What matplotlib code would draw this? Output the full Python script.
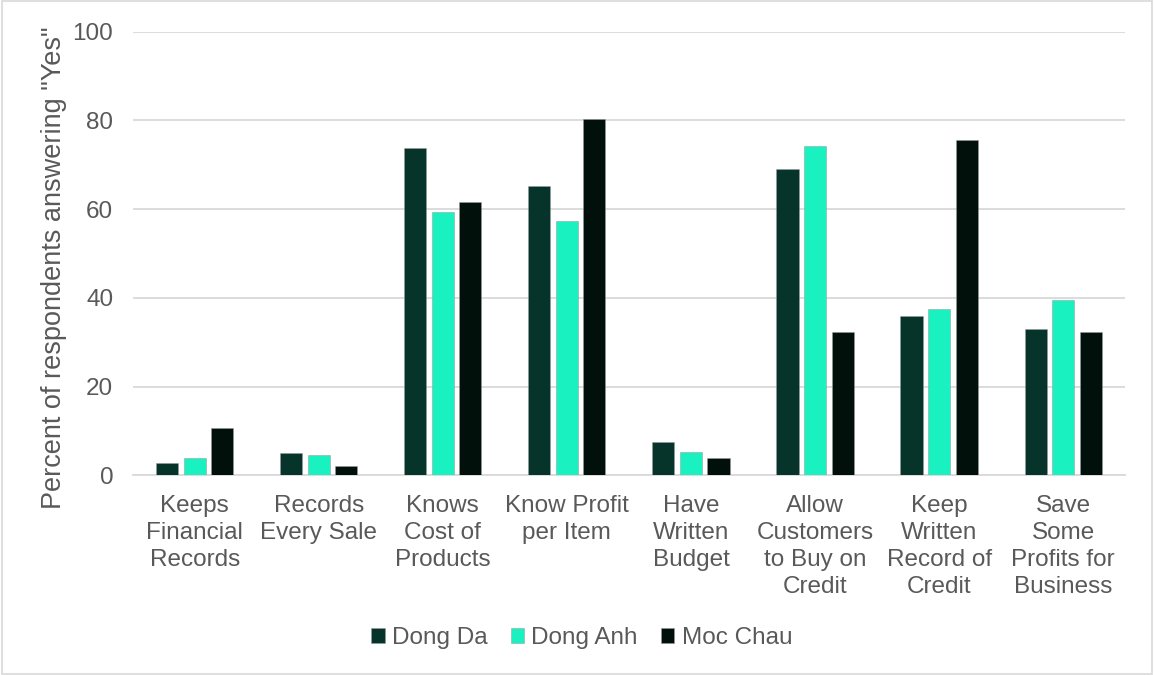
import matplotlib.pyplot as plt
import numpy as np

plt.rcParams['font.family'] = ['Liberation Sans', 'DejaVu Sans']

categorias = ["Keeps\nFinancial\nRecords", "Records\nEvery Sale", "Knows\nCost of\nProducts",
              "Know Profit\nper Item", "Have\nWritten\nBudget", "Allow\nCustomers\nto Buy on\nCredit",
              "Keep\nWritten\nRecord of\nCredit", "Save\nSome\nProfits for\nBusiness"]
dong_da = [2.8, 5.1, 73.7, 65.2, 7.4, 69.0, 36.0, 32.9]
dong_anh = [3.8, 4.6, 59.4, 57.3, 5.3, 74.3, 37.4, 39.4]
moc_chau = [10.7, 2.0, 61.7, 80.3, 3.8, 32.3, 75.6, 32.3]

series = [("Dong Da", dong_da, "#06342A"),
          ("Dong Anh", dong_anh, "#19F2C0"),
          ("Moc Chau", moc_chau, "#02100C")]

gris = "#595959"

fig = plt.figure(figsize=(11.54, 6.75), dpi=100)
ax = fig.add_axes([0.115, 0.296, 0.86, 0.657])

x = np.arange(len(categorias))
ancho = 0.178
paso = 0.222
for i, (nombre, vals, color) in enumerate(series):
    ax.bar(x + (i - 1) * paso, vals, ancho, color=color, label=nombre,
           edgecolor=(0.6, 0.6, 0.6, 0.6), linewidth=0.6, zorder=3)

ax.set_xlim(-0.5, len(categorias) - 0.5)
ax.set_ylim(0, 100)
ax.set_yticks(range(0, 101, 20))
ax.yaxis.grid(True, color="#d9d9d9", linewidth=1.3, zorder=0)
ax.set_axisbelow(True)
for s in ["top", "right", "left"]:
    ax.spines[s].set_visible(False)
ax.spines["bottom"].set_color("#d9d9d9")
ax.spines["bottom"].set_linewidth(1.3)
ax.tick_params(length=0, colors=gris, labelsize=17.5)
ax.tick_params(axis="y", pad=14)
ax.tick_params(axis="x", pad=14)
ax.set_xticks(x)
ax.set_xticklabels(categorias, linespacing=1.3, va="top")
ax.set_ylabel('Percent of respondents answering "Yes"', color=gris, fontsize=19.5)
ax.yaxis.set_label_coords(-0.066, 0.467)

fig.legend(loc="center", bbox_to_anchor=(0.504, 0.055), ncol=3, frameon=False,
           fontsize=17.5, labelcolor=gris, handlelength=0.55, handleheight=0.55,
           handletextpad=0.3, columnspacing=0.95)

# borde gris claro alrededor de la figura
fig.patches.append(plt.Rectangle((0.002, 0.002), 0.996, 0.996, transform=fig.transFigure,
                                 fill=False, edgecolor="#d9d9d9", linewidth=1.2))

plt.savefig("out.png", dpi=100)
